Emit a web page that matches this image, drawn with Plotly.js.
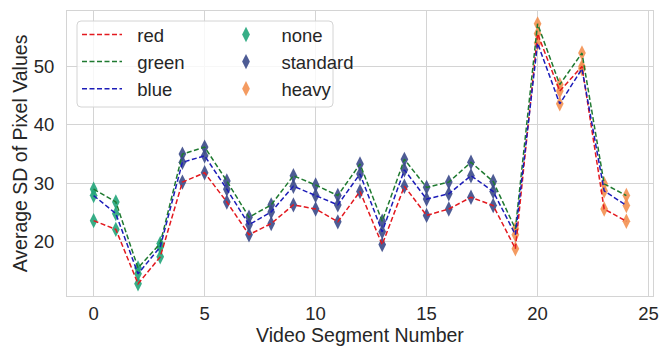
<!DOCTYPE html>
<html>
<head>
<meta charset="utf-8">
<script src="https://cdn.plot.ly/plotly-3.0.1.min.js"></script>
<style>html,body{margin:0;padding:0;background:#fff;}#chart{width:672px;height:348px;}</style>
</head>
<body>
<div id="chart"></div>
<script>
// ---- data ----
const segments = [0,1,2,3,4,5,6,7,8,9,10,11,12,13,14,15,16,17,18,19,20,21,22,23,24];
const redVals   = [23.6,22.1,12.8,17.4,30.2,31.8,26.8,21.2,23.1,26.3,25.6,23.4,28.6,19.5,29.5,24.5,25.6,27.6,26.2,18.8,55.6,45.8,50.0,25.6,23.5];
const greenVals = [29.0,26.8,15.5,19.7,35.0,36.2,30.4,24.2,26.3,31.3,29.7,27.9,33.3,23.5,34.1,29.3,30.2,33.6,30.3,22.2,57.3,46.9,52.3,29.9,27.9];
const blueVals  = [27.9,24.8,14.5,19.1,33.6,34.7,29.0,22.9,25.1,29.5,27.9,26.3,31.6,21.7,32.3,27.3,28.2,31.3,28.6,21.2,54.0,43.6,49.6,28.7,26.2];
const segmentLevel = ['none','none','none','none',
  'standard','standard','standard','standard','standard','standard','standard','standard','standard','standard','standard','standard','standard','standard','standard',
  'heavy','heavy','heavy','heavy','heavy','heavy'];
const lineNames = ['red','green','blue'];
const levelNames = ['none','standard','heavy'];

// ---- styles ----
const lineColors = {red:'#e3191f', green:'#1f7a30', blue:'#1c1cb8'};
const levelColors = {none:'#22a57a', standard:'#3b4a8a', heavy:'#f39050'};
const series = {red:redVals, green:greenVals, blue:blueVals};
const pad = '\u00a0\u00a0';
const pad2 = '\u00a0\u00a0\u00a0';

const traces = [];
// markers (under lines)
levelNames.forEach(function(lv){
  const xs = [], ys = [];
  lineNames.forEach(function(ln){
    segments.forEach(function(s,i){
      if (segmentLevel[i] === lv) { xs.push(s); ys.push(series[ln][i]); }
    });
  });
  traces.push({
    x: xs, y: ys, type:'scatter', mode:'markers', name: pad2 + lv,
    legend:'legend2', legendgroup: lv,
    marker:{symbol:'diamond-tall', size:11, color: levelColors[lv], opacity:0.9, line:{width:0}}
  });
});
lineNames.forEach(function(ln){
  traces.push({
    x: segments, y: series[ln], type:'scatter', mode:'lines', name: pad + ln,
    legend:'legend', legendgroup: ln,
    line:{color: lineColors[ln], width:1.5, dash:'5px,2.5px'}
  });
});

const W = 672, H = 348, ml = 67, mr = 19, mt = 11, mb = 52;
const pw = W - ml - mr, ph = H - mt - mb;
function px2x(p){ return (p - ml)/pw; }
function py2y(p){ return (H - mb - p)/ph; }
const bx0 = px2x(77), bx1 = px2x(333), by0 = py2y(107), by1 = py2y(21);
const rx = 4/pw, ry = 4/ph;
const boxPath = 'M'+(bx0+rx)+','+by0+' L'+(bx1-rx)+','+by0+' Q'+bx1+','+by0+' '+bx1+','+(by0+ry)+
  ' L'+bx1+','+(by1-ry)+' Q'+bx1+','+by1+' '+(bx1-rx)+','+by1+' L'+(bx0+rx)+','+by1+
  ' Q'+bx0+','+by1+' '+bx0+','+(by1-ry)+' L'+bx0+','+(by0+ry)+' Q'+bx0+','+by0+' '+(bx0+rx)+','+by0+' Z';

const txtColor = '#262626';
const fontFam = 'Liberation Sans, Arial, sans-serif';

const legendCommon = {
  bgcolor:'rgba(0,0,0,0)', borderwidth:0, font:{family:fontFam, size:18.5, color:txtColor},
  xanchor:'left', yanchor:'top', traceorder:'grouped', tracegroupgap:0
};

const layout = {
  width: W, height: H,
  margin:{l:ml, r:mr, t:mt, b:mb, pad:0},
  paper_bgcolor:'#fff', plot_bgcolor:'#fff',
  font:{family:fontFam, size:18.5, color:txtColor},
  showlegend:true,
  xaxis:{
    range:[-1.2, 25.2], tickmode:'linear', tick0:0, dtick:5,
    showgrid:true, gridcolor:'#d4d4d4', gridwidth:1, zeroline:false,
    showline:true, mirror:true, linecolor:'#d4d4d4', linewidth:1,
    ticks:'', ticklabelstandoff:1,
    tickfont:{family:fontFam, size:18.5, color:txtColor},
    title:{text:'Video Segment Number', font:{family:fontFam, size:19.5, color:txtColor}, standoff:0}
  },
  yaxis:{
    range:[10.7, 59.5], tickmode:'linear', tick0:0, dtick:10,
    showgrid:true, gridcolor:'#d4d4d4', gridwidth:1, zeroline:false,
    showline:true, mirror:true, linecolor:'#d4d4d4', linewidth:1,
    ticks:'', ticklabelstandoff:8,
    tickfont:{family:fontFam, size:18.5, color:txtColor},
    title:{text:'Average SD of Pixel Values', font:{family:fontFam, size:19.5, color:txtColor}, standoff:0}
  },
  legend: Object.assign({}, legendCommon, {x: px2x(77), y: py2y(16), itemwidth:40}),
  legend2: Object.assign({}, legendCommon, {x: px2x(226), y: py2y(16)}),
  shapes:[{type:'path', xref:'paper', yref:'paper', path: boxPath,
    fillcolor:'rgba(255,255,255,0.8)', line:{color:'#d4d4d4', width:1}, layer:'above'}]
};

Plotly.newPlot('chart', traces, layout, {displayModeBar:false, staticPlot:true});
</script>
</body>
</html>
